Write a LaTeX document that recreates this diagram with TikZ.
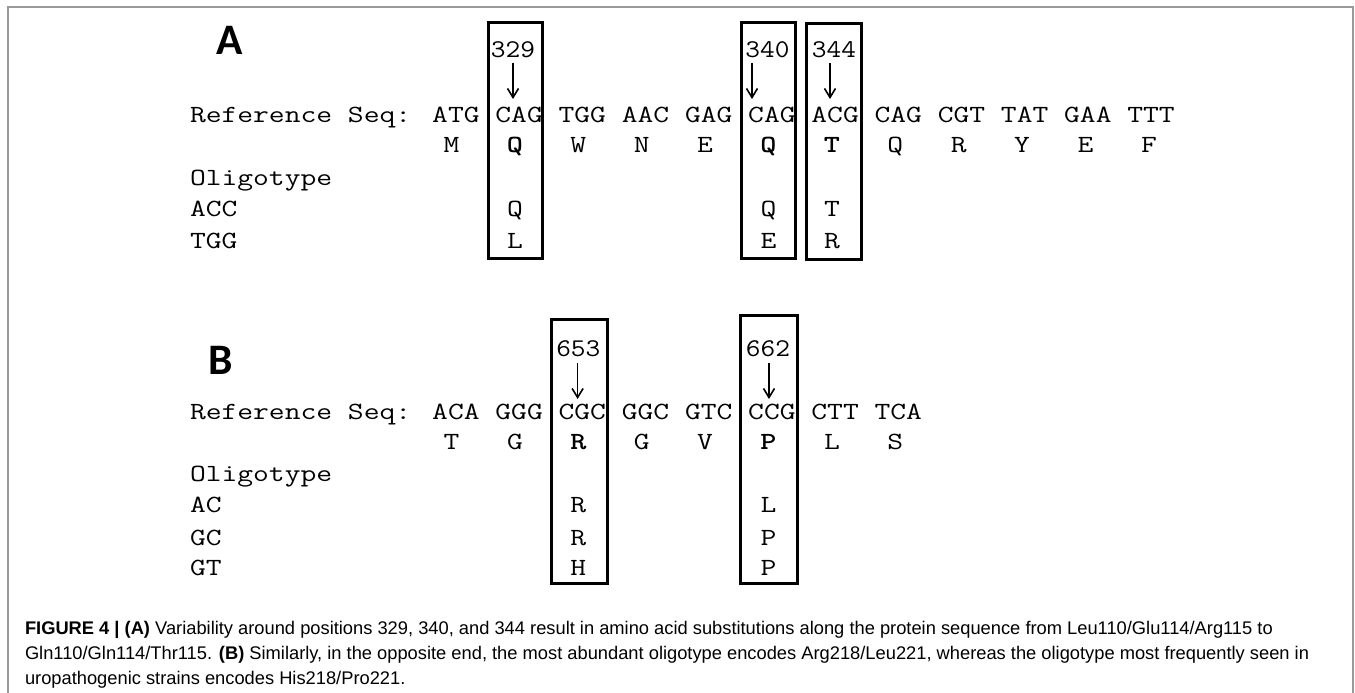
\documentclass[tikz,border=0pt]{standalone}
\usepackage{fontspec}
\usepackage{graphicx}
\setmainfont{Liberation Sans}
\newfontfamily\labfont{Carlito}
\usetikzlibrary{arrows.meta}
\newcommand\sqtxt[1]{\scalebox{1.242}[1]{\ttfamily\fontsize{24.7}{28}\selectfont #1}}
\newcommand\numtxt[1]{\scalebox{1.12}[1]{\ttfamily\fontsize{25.5}{28}\selectfont #1}}
\begin{document}
\begin{tikzpicture}[x=1pt,y=-1pt,
  every node/.style={inner sep=0pt,outer sep=0pt},
  seq/.style={anchor=base west},
  aa/.style={anchor=base},
  num/.style={anchor=base},
  panel/.style={font=\labfont\bfseries\fontsize{43.5}{50}\selectfont,anchor=base west},
  hibox/.style={draw=black,line width=3pt},
  pointer/.style={draw=black,line width=1.6pt,-{Straight Barb[length=9pt,width=11pt,line width=1.6pt]}},
  frame/.style={draw=black!40,line width=1.5pt},
  caption/.style={font=\fontsize{18.3}{25}\selectfont,anchor=base west,align=left}]
\useasboundingbox (0,0) rectangle (1355,693);
\fill[white] (0,0) rectangle (1355,693);
\draw[frame] (8,693) -- (8,7) -- (1353,7) -- (1353,693);
% ---------- Panel A ----------
\node[panel] (labA) at (216,55) {A};
\node[seq] (refA) at (190,122.3) {\sqtxt{Reference Seq: ATG CAG TGG AAC GAG CAG ACG CAG CGT TAT GAA TTT}};
\foreach \i/\l/\b in {0/M/0,1/Q/1,2/W/0,3/N/0,4/E/0,5/Q/1,6/T/1,7/Q/0,8/R/0,9/Y/0,10/E/0,11/F/0}{
  \pgfmathsetmacro{\cx}{190+(16.5+4*\i)*15.85}
  \ifnum\b=1
    \node[aa] (aaA\i) at (\cx,152.7) {\sqtxt{\bfseries\l}};
  \else
    \node[aa] (aaA\i) at (\cx,152.7) {\sqtxt{\l}};
  \fi
}
\node[seq] (oligA) at (190,185) {\sqtxt{Oligotype}};
\node[seq] (accA) at (190,216.7) {\sqtxt{ACC}};
\node[seq] (tggA) at (190,248.3) {\sqtxt{TGG}};
\node[aa] (a1r1) at (514.9,216.7) {\sqtxt{Q}};
\node[aa] (a1r2) at (514.9,248.3) {\sqtxt{L}};
\node[aa] (a5r1) at (768.5,216.7) {\sqtxt{Q}};
\node[aa] (a5r2) at (768.5,248.3) {\sqtxt{E}};
\node[aa] (a6r1) at (831.9,216.7) {\sqtxt{T}};
\node[aa] (a6r2) at (831.9,248.3) {\sqtxt{R}};
\draw[hibox] (488,22.7) rectangle (542.7,258);
\draw[hibox] (741.5,22.7) rectangle (795.5,258);
\draw[hibox] (806,24) rectangle (861,259);
\node[num] (n329) at (513,57.3) {\numtxt{329}};
\node[num] (n340) at (767.5,57.3) {\numtxt{340}};
\node[num] (n344) at (834,57.3) {\numtxt{344}};
\coordinate (s329) at (513,63);   \coordinate (e329) at (513,99);
\coordinate (s340) at (752,63);   \coordinate (e340) at (752,99);
\coordinate (s344) at (830,63);   \coordinate (e344) at (830,99);
\draw[pointer] (s329) -- (e329);
\draw[pointer] (s340) -- (e340);
\draw[pointer] (s344) -- (e344);
% ---------- Panel B ----------
\node[panel] (labB) at (208,374) {B};
\node[seq] (refB) at (190,419) {\sqtxt{Reference Seq: ACA GGG CGC GGC GTC CCG CTT TCA}};
\foreach \i/\l/\b in {0/T/0,1/G/0,2/R/1,3/G/0,4/V/0,5/P/1,6/L/0,7/S/0}{
  \pgfmathsetmacro{\cx}{190+(16.5+4*\i)*15.85}
  \ifnum\b=1
    \node[aa] (aaB\i) at (\cx,449.3) {\sqtxt{\bfseries\l}};
  \else
    \node[aa] (aaB\i) at (\cx,449.3) {\sqtxt{\l}};
  \fi
}
\node[seq] (oligB) at (190,481.7) {\sqtxt{Oligotype}};
\node[seq] (acB) at (190,512.7) {\sqtxt{AC}};
\node[seq] (gcB) at (190,545) {\sqtxt{GC}};
\node[seq] (gtB) at (190,575.7) {\sqtxt{GT}};
\node[aa] (b2r1) at (578.3,512.7) {\sqtxt{R}};
\node[aa] (b2r2) at (578.3,545) {\sqtxt{R}};
\node[aa] (b2r3) at (578.3,575.7) {\sqtxt{H}};
\node[aa] (b5r1) at (768.5,512.7) {\sqtxt{L}};
\node[aa] (b5r2) at (768.5,545) {\sqtxt{P}};
\node[aa] (b5r3) at (768.5,575.7) {\sqtxt{P}};
\draw[hibox] (551,319.3) rectangle (607,583);
\draw[hibox] (740,315) rectangle (797,583);
\node[num] (n653) at (578.3,356.7) {\numtxt{653}};
\node[num] (n662) at (768,356.7) {\numtxt{662}};
\coordinate (s653) at (577.6,363); \coordinate (e653) at (577.6,399);
\coordinate (s662) at (769,363);   \coordinate (e662) at (769,399);
\draw[pointer] (s653) -- (e653);
\draw[pointer] (s662) -- (e662);
% ---------- Caption ----------
\node[caption] (cap) at (25,684) {\textbf{FIGURE 4 | (A)} Variability around positions 329, 340, and 344 result in amino acid substitutions along the protein sequence from Leu110/Glu114/Arg115 to\\
Gln110/Gln114/Thr115. \textbf{(B)} Similarly, in the opposite end, the most abundant oligotype encodes Arg218/Leu221, whereas the oligotype most frequently seen in\\
uropathogenic strains encodes His218/Pro221.};
\end{tikzpicture}
\end{document}
